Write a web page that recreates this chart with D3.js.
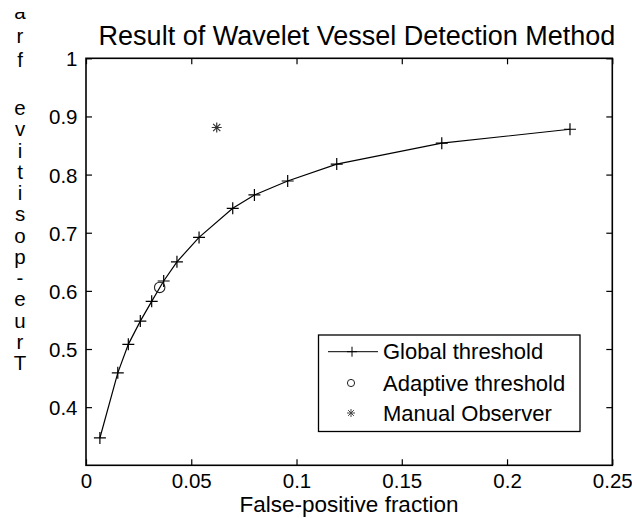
<!DOCTYPE html>
<html>
<head>
<meta charset="utf-8">
<script src="https://cdn.jsdelivr.net/npm/d3@7"></script>
<style>
  body { margin: 0; background: #fff; }
  text { font-family: "Liberation Sans", Arial, Helvetica, sans-serif; fill: #000; }
</style>
</head>
<body>
<svg id="chart" width="632" height="518"></svg>
<script>
// ROC points
const globalFpf = [0.0066, 0.0151, 0.0201, 0.0258, 0.0312, 0.0369, 0.0432, 0.0537, 0.0697, 0.0800, 0.0958, 0.1191, 0.1690, 0.2299];
const globalTpf = [0.347, 0.459, 0.508, 0.548, 0.582, 0.617, 0.650, 0.692, 0.742, 0.765, 0.789, 0.818, 0.854, 0.878];
const adaptiveFpf = [0.0350];
const adaptiveTpf = [0.606];
const manualFpf = [0.0621];
const manualTpf = [0.881];

const xTicks = [0, 0.05, 0.1, 0.15, 0.2, 0.25];
const yTicks = [0.4, 0.5, 0.6, 0.7, 0.8, 0.9, 1];
const legendLabels = ["Global threshold", "Adaptive threshold", "Manual Observer"];

const titleText = "Result of Wavelet Vessel Detection Method";
const xLabelText = "False-positive fraction";
const yLabelText = "True-positive fraction";

const svg = d3.select("#chart");

// plot box
const boxL = 86, boxR = 612.3, boxT = 58.3, boxB = 465.3;
const x = d3.scaleLinear().domain([0, 0.25]).range([boxL, boxR]);
const y = d3.scaleLinear().domain([0.3, 1]).range([boxB, boxT]);

const tickLen = 6;

// ticks on all four sides, pointing inwards
svg.append("g")
  .attr("transform", "translate(0," + boxB + ")")
  .call(d3.axisBottom(x).tickValues(xTicks).tickSizeInner(-tickLen).tickSizeOuter(0).tickPadding(10).tickFormat(d3.format("")))
  .call(g => g.select(".domain").remove())
  .call(g => g.selectAll("text").attr("font-size", 20.5).attr("dy", 0).attr("y", 23));

svg.append("g")
  .attr("transform", "translate(0," + boxT + ")")
  .call(d3.axisTop(x).tickValues(xTicks).tickSizeInner(-tickLen).tickSizeOuter(0).tickFormat(""))
  .call(g => g.select(".domain").remove());

svg.append("g")
  .attr("transform", "translate(" + boxL + ",0)")
  .call(d3.axisLeft(y).tickValues(yTicks).tickSizeInner(-tickLen).tickSizeOuter(0).tickFormat(d3.format("")))
  .call(g => g.select(".domain").remove())
  .call(g => g.selectAll("text").attr("font-size", 20.5).attr("x", -8.5).attr("dy", 7.5));

svg.append("g")
  .attr("transform", "translate(" + boxR + ",0)")
  .call(d3.axisRight(y).tickValues(yTicks).tickSizeInner(-tickLen).tickSizeOuter(0).tickFormat(""))
  .call(g => g.select(".domain").remove());

svg.selectAll(".tick line").attr("stroke", "#000").attr("stroke-width", 1.2);
svg.selectAll(".tick text").attr("fill", "#000").attr("font-family", "Liberation Sans, Arial, sans-serif");

svg.append("rect")
  .attr("x", boxL).attr("y", boxT)
  .attr("width", boxR - boxL).attr("height", boxB - boxT)
  .attr("fill", "none").attr("stroke", "#000").attr("stroke-width", 1.6);

// markers
function plusPath(cx, cy, s) {
  return "M" + (cx - s) + "," + cy + "H" + (cx + s) + "M" + cx + "," + (cy - s) + "V" + (cy + s);
}
function starPath(cx, cy, s) {
  const d = s * 0.72;
  return plusPath(cx, cy, s) +
    "M" + (cx - d) + "," + (cy - d) + "L" + (cx + d) + "," + (cy + d) +
    "M" + (cx - d) + "," + (cy + d) + "L" + (cx + d) + "," + (cy - d);
}

const globalPts = globalFpf.map((v, i) => [v, globalTpf[i]]);
const line = d3.line().x(d => x(d[0])).y(d => y(d[1]));

svg.append("path")
  .attr("d", line(globalPts))
  .attr("fill", "none").attr("stroke", "#000").attr("stroke-width", 1.2);

svg.append("g").selectAll("path")
  .data(globalPts).enter().append("path")
  .attr("d", d => plusPath(x(d[0]), y(d[1]), 6))
  .attr("stroke", "#000").attr("stroke-width", 1.2);

svg.append("g").selectAll("circle")
  .data(adaptiveFpf.map((v, i) => [v, adaptiveTpf[i]])).enter().append("circle")
  .attr("cx", d => x(d[0])).attr("cy", d => y(d[1])).attr("r", 5.2)
  .attr("fill", "none").attr("stroke", "#222").attr("stroke-width", 1.1);

svg.append("g").selectAll("path")
  .data(manualFpf.map((v, i) => [v, manualTpf[i]])).enter().append("path")
  .attr("d", d => starPath(x(d[0]), y(d[1]), 5))
  .attr("stroke", "#333").attr("stroke-width", 1.2);

// legend
const lg = svg.append("g");
lg.append("rect")
  .attr("x", 318.5).attr("y", 335).attr("width", 261.5).attr("height", 96.5)
  .attr("fill", "#fff").attr("stroke", "#000").attr("stroke-width", 1.3);

const rowY = [351.7, 383, 413];
lg.append("path").attr("d", "M328," + rowY[0] + "H378").attr("stroke", "#000").attr("stroke-width", 1);
lg.append("path").attr("d", plusPath(352, rowY[0], 5)).attr("stroke", "#000").attr("stroke-width", 1);
lg.append("circle").attr("cx", 351).attr("cy", rowY[1]).attr("r", 3.6)
  .attr("fill", "none").attr("stroke", "#222").attr("stroke-width", 1);
lg.append("path").attr("d", starPath(351, rowY[2], 4)).attr("stroke", "#444").attr("stroke-width", 1);

lg.selectAll("text.leg")
  .data(legendLabels).enter().append("text")
  .attr("class", "leg")
  .attr("x", 383).attr("y", (d, i) => rowY[i] + 7.7)
  .attr("font-size", 22)
  .text(d => d);

// title and axis labels
svg.append("text")
  .attr("x", 357).attr("y", 45)
  .attr("text-anchor", "middle").attr("font-size", 27)
  .text(titleText);

svg.append("text")
  .attr("x", 349).attr("y", 512)
  .attr("text-anchor", "middle").attr("font-size", 22.5)
  .text(xLabelText);

// y label drawn as a column of upright letters, read bottom to top
svg.append("clipPath").attr("id", "ylabClip")
  .append("rect").attr("x", 0).attr("y", 12).attr("width", 60).attr("height", 500);

const letters = Array.from(yLabelText);
svg.append("g").attr("clip-path", "url(#ylabClip)")
  .selectAll("text").data(letters).enter().append("text")
  .attr("x", 20)
  .attr("y", (d, i) => i <= 12 ? 370 - i * 21.25 : 115 - (i - 12) * 24)
  .attr("text-anchor", "middle").attr("font-size", 20.5)
  .text(d => d);
</script>
</body>
</html>
